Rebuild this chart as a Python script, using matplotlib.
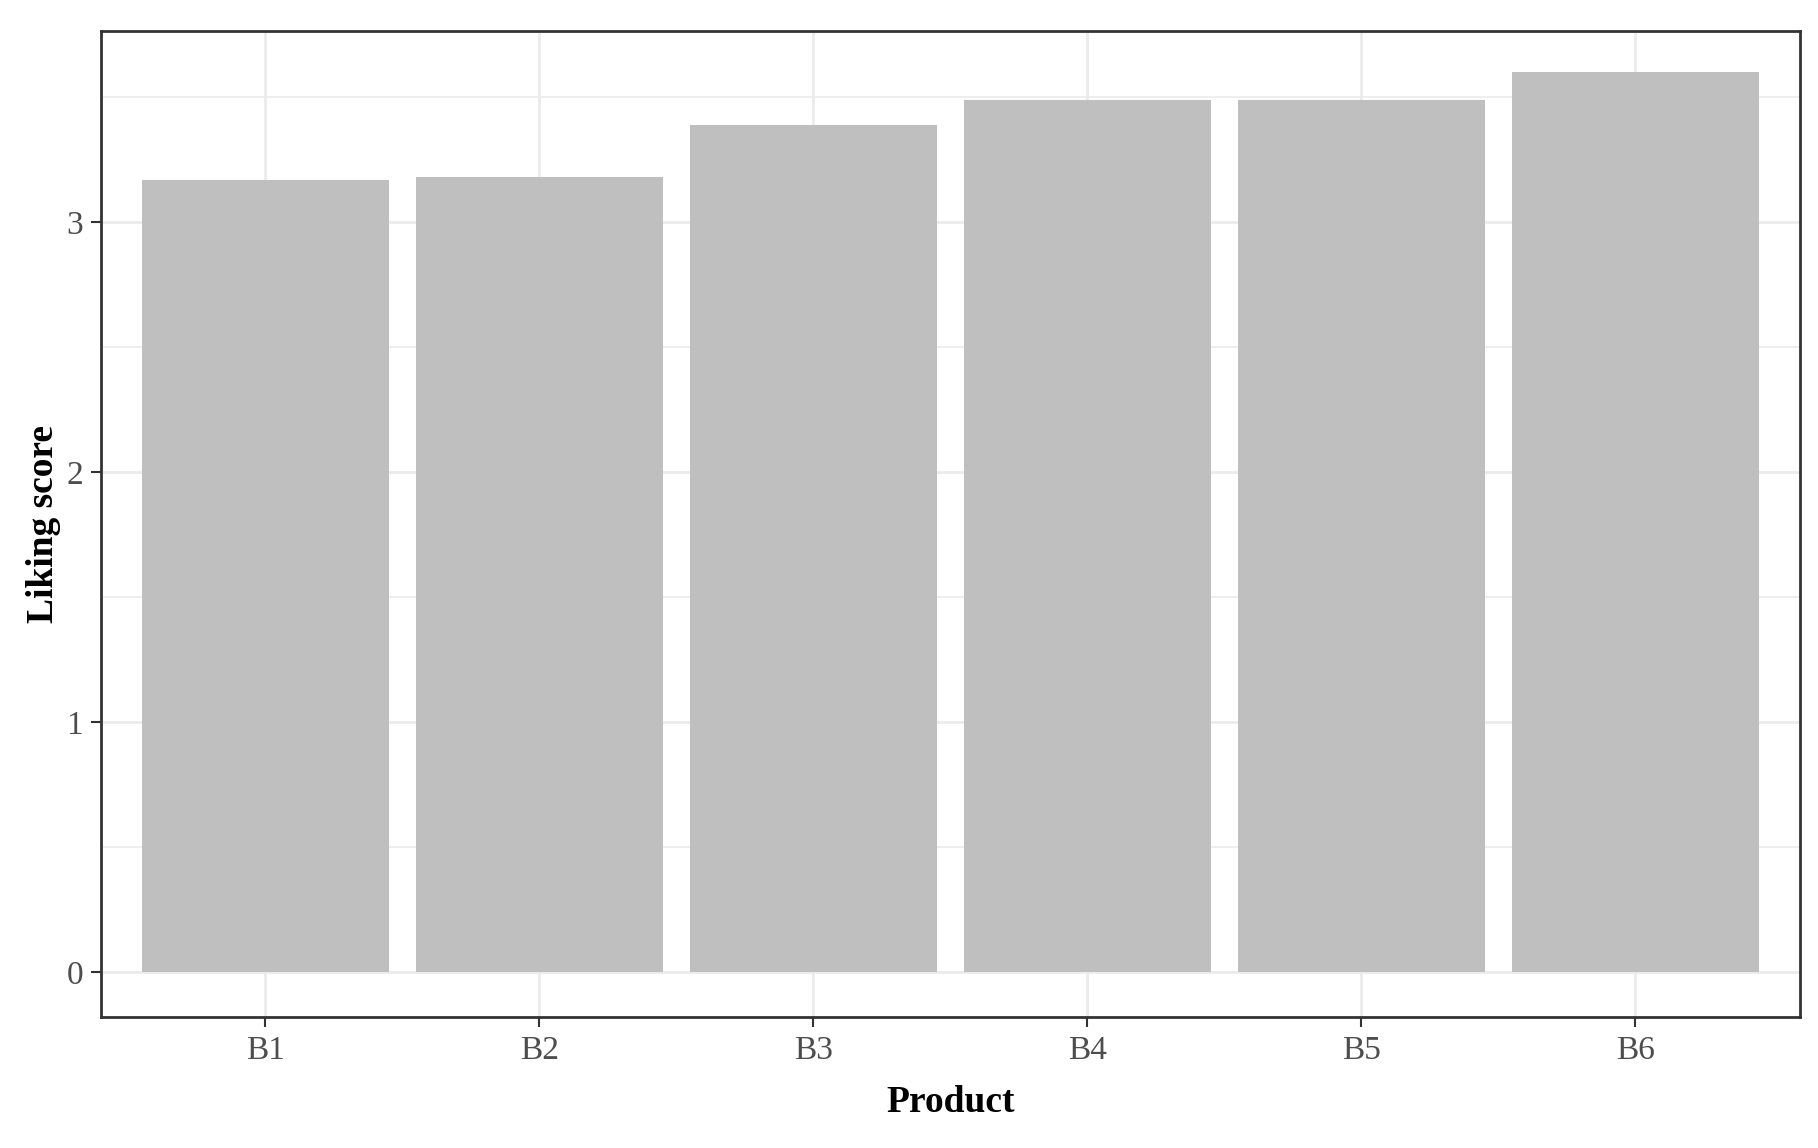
import matplotlib
matplotlib.use("Agg")
import matplotlib.pyplot as plt
import numpy as np

products = ["B1", "B2", "B3", "B4", "B5", "B6"]
scores = [3.17, 3.18, 3.39, 3.49, 3.49, 3.60]
yticks = [0, 1, 2, 3]

plt.rcParams['font.family'] = ['Liberation Serif', 'DejaVu Serif']

fig = plt.figure(figsize=(18.18, 11.48), dpi=100)
ax = fig.add_axes([0.0556, 0.114, 0.9344, 0.859])

x = np.arange(len(products))
ax.bar(x, scores, width=0.9, color="#bfbfbf", zorder=2)

ax.set_xlim(-0.6, len(products) - 0.4)
ax.set_ylim(-0.18, 3.765)
ax.set_xticks(x)
ax.set_xticklabels(products)
ax.set_yticks(yticks)
ax.set_yticks([0.5, 1.5, 2.5, 3.5], minor=True)

ax.grid(which="major", color="#ebebeb", linewidth=2, zorder=0)
ax.grid(which="minor", axis="y", color="#ebebeb", linewidth=1.2, zorder=0)
ax.tick_params(which="minor", length=0)
ax.tick_params(which="major", length=7, width=1.5, color="#333333",
               labelsize=24, labelcolor="#4d4d4d", pad=6)

for s in ax.spines.values():
    s.set_color("#333333")
    s.set_linewidth(2)

ax.set_xlabel("Product", fontsize=27, fontweight="bold", labelpad=14)
ax.set_ylabel("Liking score", fontsize=27, fontweight="bold", labelpad=4)

fig.savefig("out.png", dpi=100)
